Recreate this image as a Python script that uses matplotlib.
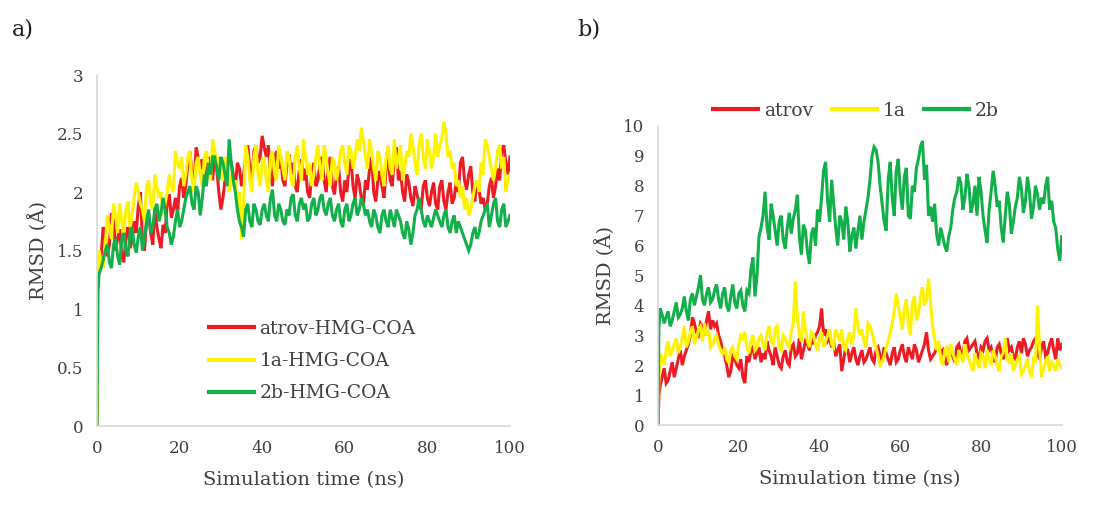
import matplotlib
matplotlib.use("Agg")
from matplotlib import pyplot as plt

# time axis (ns): start, early jump, then every 0.5 ns
time = [0, 0.2] + [k / 2 for k in range(1, 201)]

# panel a) RMSD (A)
a_atrov = [0, 1.2,
           1.35, 1.45, 1.7, 1.62, 1.45, 1.55, 1.82, 1.78, 1.5, 1.6,
           1.68, 1.45, 1.4, 1.62, 1.7, 1.52, 1.6, 1.75, 1.65, 1.88,
           2.0, 1.6, 1.5, 1.75, 1.82, 1.65, 1.55, 1.85, 1.7, 1.6,
           1.52, 1.72, 1.65, 1.9, 1.98, 1.78, 1.85, 1.95, 1.82, 2.05,
           2.12, 1.95, 2.05, 2.25, 2.35, 2.15, 2.05, 2.38, 2.3, 2.2,
           2.28, 2.05, 2.15, 2.3, 2.22, 2.1, 2.32, 2.2, 2.0, 1.85,
           1.95, 2.1, 2.2, 2.3, 2.25, 2.15, 2.05, 2.25, 2.2, 2.05,
           2.15, 2.3, 2.4, 2.2, 2.1, 2.35, 2.4, 2.25, 2.3, 2.48,
           2.38, 2.3, 2.4, 2.15, 2.05, 2.3, 2.35, 2.2, 2.3, 2.1,
           2.05, 2.25, 2.32, 2.15, 2.25, 2.05, 2.0, 2.2, 2.28, 2.1,
           2.2, 2.0, 1.95, 2.15, 2.25, 2.05, 2.1, 2.25, 2.3, 2.1,
           2.0, 2.2, 2.3, 2.05, 1.98, 2.15, 2.22, 2.0, 1.92, 2.1,
           2.0, 2.2, 2.28, 2.05, 1.95, 2.15, 2.08, 1.95, 1.88, 2.1,
           2.02, 2.2, 2.3, 2.0, 1.92, 2.1, 2.18, 2.05, 1.95, 2.2,
           2.3, 2.1, 2.05, 2.3, 2.38, 2.1, 2.18, 2.0, 1.92, 2.15,
           2.08, 1.95, 1.88, 2.05, 1.98, 1.9, 1.85, 2.05, 2.1, 1.95,
           1.88, 2.0, 2.08, 1.9, 1.85, 2.05, 2.1, 1.92, 1.85, 2.0,
           2.08, 1.9, 1.95, 2.1, 2.0, 2.25, 2.3, 2.1, 2.02, 2.15,
           2.22, 2.0, 1.92, 2.1, 2.02, 1.9, 1.95, 1.85, 1.9, 2.05,
           2.12, 1.95, 2.05, 2.2, 2.1, 2.35, 2.4, 2.25, 2.15, 2.3]
a_1a = [0, 1.1,
        1.5, 1.4, 1.35, 1.55, 1.8, 1.7, 1.6, 1.9, 1.8, 1.65,
        1.9, 1.75, 1.65, 1.85, 1.92, 1.7, 1.8, 1.95, 2.08, 2.0,
        1.9, 1.85, 1.75, 2.05, 2.1, 1.9, 1.85, 2.15, 2.05, 1.95,
        2.0, 1.8, 1.9, 2.0, 2.15, 2.05, 2.0, 2.35, 2.25, 2.2,
        2.3, 2.05, 2.15, 2.3, 2.35, 2.1, 2.0, 2.25, 2.3, 2.15,
        2.05, 2.3, 2.35, 2.2, 2.1, 2.45, 2.35, 2.25, 2.3, 2.15,
        2.1, 2.3, 2.25, 2.0, 2.15, 2.05, 2.1, 1.85, 2.0, 1.6,
        1.9, 2.4, 2.3, 2.1, 2.0, 2.3, 2.4, 2.15, 2.05, 2.25,
        2.3, 2.1, 2.0, 2.3, 2.35, 2.15, 2.1, 2.4, 2.3, 2.2,
        2.1, 2.35, 2.3, 2.1, 2.05, 2.3, 2.4, 2.2, 2.1, 2.45,
        2.3, 2.15, 2.25, 2.05, 2.15, 2.3, 2.4, 2.2, 2.1, 2.4,
        2.3, 2.15, 2.05, 2.3, 2.25, 2.1, 2.2, 2.35, 2.4, 2.25,
        2.15, 2.4, 2.35, 2.2, 2.3, 2.45, 2.35, 2.55, 2.45, 2.3,
        2.2, 2.45, 2.35, 2.2, 2.1, 2.35, 2.3, 2.15, 2.05, 2.3,
        2.4, 2.2, 2.15, 2.45, 2.2, 2.3, 2.4, 2.1, 2.2, 2.35,
        2.3, 2.5, 2.4, 2.25, 2.15, 2.4, 2.5, 2.3, 2.2, 2.45,
        2.35, 2.2, 2.3, 2.5, 2.3, 2.4, 2.45, 2.6, 2.5, 2.3,
        2.35, 2.2, 2.25, 2.05, 2.1, 1.95, 2.05, 1.85, 1.95, 1.8,
        1.85, 1.95, 2.05, 2.1, 2.0, 2.25, 2.15, 2.45, 2.4, 2.3,
        2.2, 2.1, 2.2, 2.35, 2.4, 2.2, 2.3, 2.0, 2.1, 2.15]
a_2b = [0, 1.15,
        1.3, 1.35, 1.42, 1.5, 1.55, 1.4, 1.35, 1.55, 1.6, 1.45,
        1.38, 1.6, 1.65, 1.5, 1.45, 1.65, 1.7, 1.55, 1.48, 1.62,
        1.7, 1.5, 1.6, 1.75, 1.85, 1.65, 1.7, 1.85, 1.9, 1.75,
        1.82, 1.95, 1.85, 1.7, 1.65, 1.55, 1.62, 1.75, 1.85, 1.7,
        1.75, 1.85, 1.95, 2.0, 2.05, 1.9, 1.85, 2.05, 2.0, 1.8,
        1.95, 2.15, 2.05, 2.25, 2.15, 2.3, 2.3, 2.2, 2.1, 2.3,
        2.25, 2.15, 2.05, 2.45, 2.25, 2.1, 2.0, 1.85, 1.75, 1.7,
        1.62, 1.85, 1.9, 1.75, 1.7, 1.9, 1.85, 1.75, 1.72, 1.85,
        1.9, 1.8, 1.75, 1.95, 2.02, 1.8, 1.75, 1.9, 1.85, 1.75,
        1.72, 1.85, 1.8, 1.95, 1.98, 1.8, 1.75, 1.9, 1.95, 1.85,
        1.9, 1.75, 1.78, 1.9, 1.95, 1.8, 1.85, 1.95, 1.98, 1.85,
        1.8, 1.9, 1.95, 1.8, 1.75, 1.85, 1.9, 1.75, 1.7, 1.85,
        1.9, 1.75, 1.8, 1.9, 1.95, 1.8, 1.85, 1.95, 1.9, 1.8,
        1.85, 1.75, 1.7, 1.85, 1.8, 1.7, 1.65, 1.8, 1.85, 1.75,
        1.7, 1.85, 1.78, 1.7, 1.85, 1.8, 1.75, 1.65, 1.6, 1.75,
        1.68, 1.55, 1.65, 1.8, 1.85, 1.95, 1.85, 1.75, 1.7, 1.8,
        1.75, 1.7, 1.78, 1.85, 1.8, 1.75, 1.7, 1.8, 1.85, 1.7,
        1.65, 1.75, 1.8, 1.65, 1.75, 1.7, 1.65, 1.6, 1.55, 1.5,
        1.55, 1.65, 1.7, 1.6, 1.65, 1.75, 1.8, 1.85, 1.9, 1.7,
        1.8, 1.9, 1.95, 1.75, 1.7, 1.85, 1.9, 1.7, 1.75, 1.8]

# panel b) RMSD (A)
b_atrov = [0, 1.0,
           1.3, 1.6, 1.9, 1.4, 1.5, 1.8, 2.1, 1.6, 1.9, 2.2,
           2.5, 2.0, 2.3, 2.5, 2.7, 3.0, 3.6, 3.4, 3.1, 3.0,
           3.4, 3.3, 3.0, 3.5, 3.8, 3.2, 3.5, 3.3, 3.4, 3.0,
           2.8, 2.5, 2.3, 2.0, 1.6, 1.8, 2.3, 2.2, 2.0, 1.9,
           2.2, 1.6, 1.4, 2.3, 2.1, 2.5, 2.6, 2.2, 2.4, 2.6,
           2.1, 2.4, 2.2, 2.8, 2.5, 2.3, 2.0, 2.6, 2.3, 2.0,
           1.9, 2.3, 2.5, 2.1, 2.0, 2.6, 2.7, 2.3, 2.4, 2.9,
           2.2, 2.5, 2.8, 2.7, 2.5, 2.9, 2.7, 3.0, 3.1, 3.3,
           3.9, 3.0, 3.2, 2.8, 2.9, 2.6, 2.8, 2.3, 2.5, 2.7,
           1.8, 2.2, 2.6, 2.5, 2.1, 2.4, 2.6, 2.2, 2.0, 2.3,
           2.5, 2.1, 2.2, 2.4, 2.6, 2.2, 2.1, 2.5, 2.6, 2.3,
           2.1, 2.6, 2.4, 2.2, 2.0, 2.4, 2.6, 2.1, 2.2, 2.5,
           2.7, 2.3, 2.1, 2.6, 2.4, 2.2, 2.7, 2.5, 2.1, 2.3,
           2.5, 2.7, 3.1, 2.5, 2.2, 2.3, 2.4, 2.6, 2.7, 2.4,
           2.5, 2.2, 2.0, 2.5, 2.6, 2.3, 2.1, 2.6, 2.7, 2.4,
           2.3, 2.8, 2.9, 2.5, 2.6, 2.7, 2.8, 2.4, 2.2, 2.6,
           2.5, 2.8, 2.9, 2.5, 2.6, 2.3, 2.1, 2.6, 2.7, 2.4,
           2.2, 2.7, 2.9, 2.5, 2.6, 2.3, 2.2, 2.6, 2.8, 2.4,
           2.9, 2.7, 2.3, 2.5, 2.6, 2.8, 2.9, 2.4, 2.2, 2.6,
           2.8, 2.3, 2.4, 2.7, 2.9, 2.5, 2.2, 2.9, 2.5, 2.7]
b_1a = [0, 1.5,
        2.4, 2.2, 2.0, 2.5, 2.8, 2.3, 2.5, 2.7, 2.9, 2.4,
        2.6, 2.9, 3.3, 2.6, 2.8, 3.1, 3.3, 2.7, 2.9, 3.2,
        3.3, 2.8, 3.4, 3.0, 3.2, 2.6, 2.7, 2.9, 3.0, 2.7,
        2.5, 2.4, 2.6, 2.2, 2.1, 2.5, 2.6, 2.3, 2.2, 2.7,
        3.0, 2.9, 3.1, 2.6, 2.4, 2.8, 3.0, 2.5, 2.6, 2.9,
        3.0, 2.7, 2.5, 3.1, 3.3, 2.8, 2.7, 3.2, 3.3, 2.6,
        2.5, 3.0, 2.9, 2.7, 2.6, 3.1, 3.4, 4.8, 3.6, 3.0,
        2.8, 3.8, 3.2, 2.8, 2.6, 3.1, 3.0, 2.7, 2.5, 2.9,
        3.1, 2.6, 2.8, 3.0, 3.2, 2.7, 2.6, 3.2, 3.0, 2.8,
        3.2, 2.6, 2.5, 2.9, 3.1, 2.7, 3.0, 3.9, 3.3, 3.0,
        3.2, 2.8, 2.6, 3.4, 3.3, 3.1, 2.8, 2.6, 2.3, 2.0,
        2.1, 2.3, 2.6, 2.8, 3.1, 3.4, 3.8, 4.4, 4.0, 3.6,
        3.2, 3.9, 4.2, 3.4, 3.0, 4.1, 4.3, 3.5, 3.7, 4.3,
        4.6, 4.0, 4.2, 4.9, 4.1, 3.3, 2.9, 2.5, 2.8, 2.2,
        2.0, 2.5, 2.6, 2.1, 2.7, 2.4, 2.2, 2.0, 2.5, 2.3,
        2.1, 2.7, 2.4, 2.2, 2.0, 1.8, 2.4, 2.1, 1.9, 2.4,
        2.3, 1.9, 2.5, 2.2, 2.0, 2.5, 2.3, 2.0, 1.8, 2.3,
        2.4, 2.9, 2.2, 2.1, 2.4, 1.8, 2.0, 2.2, 2.3, 1.7,
        1.8, 2.0, 2.2, 1.8, 1.6, 2.2, 2.1, 4.0, 2.6, 1.6,
        1.9, 2.1, 2.3, 1.8, 2.1, 2.0, 1.8, 2.2, 2.0, 1.9]
b_2b = [0, 3.2,
        3.9, 3.7, 3.4, 3.6, 3.8, 3.3, 3.5, 3.8, 4.1, 3.6,
        3.7, 3.9, 4.3, 3.8, 3.5, 4.2, 4.4, 4.0, 4.3, 4.6,
        5.0, 4.2, 4.0, 4.4, 4.6, 4.1, 4.2, 4.5, 4.7, 4.2,
        3.9, 4.4, 4.6, 4.0, 3.8, 4.3, 4.7, 4.1, 3.9, 4.4,
        4.5, 4.0, 3.8, 4.5, 4.4, 5.2, 5.6, 4.3, 5.0, 6.3,
        6.6, 7.0, 7.8, 6.6, 6.2, 7.4, 7.0, 6.5, 6.0, 6.8,
        7.0, 6.2, 5.9, 6.6, 7.1, 6.4, 6.9, 7.2, 7.7, 6.3,
        5.7, 6.7, 6.5, 5.8, 5.4, 6.4, 6.6, 6.0, 7.2, 6.8,
        7.6, 8.5, 8.8, 7.5, 6.8, 8.2, 7.4, 6.6, 6.0, 7.0,
        6.8, 6.2, 7.3, 6.8, 5.8, 6.3, 6.6, 5.9, 6.5, 7.0,
        6.2, 6.8, 7.2, 7.6, 8.2, 9.0, 9.3, 9.2, 8.8, 8.0,
        7.4, 6.8, 6.5, 8.2, 8.8, 7.6, 7.0, 8.5, 8.9, 7.8,
        7.2, 8.3, 8.6, 7.0, 6.9, 8.0, 7.8, 8.6, 8.9, 9.3,
        9.5, 8.2, 8.7, 7.0, 7.3, 6.8, 7.4, 6.4, 6.0, 6.6,
        6.3, 6.0, 5.8, 6.3, 6.6, 7.2, 7.6, 7.8, 8.3, 8.1,
        7.2, 7.6, 8.4, 8.0, 7.1, 7.4, 8.0, 7.0, 8.3, 7.8,
        7.0, 6.5, 6.1, 7.2, 7.8, 8.5, 8.0, 7.3, 7.5, 6.6,
        6.1, 7.0, 7.8, 7.4, 6.4, 6.8, 7.3, 7.6, 8.3, 7.9,
        7.1, 7.5, 8.3, 7.8, 6.9, 7.3, 8.0, 7.7, 7.2, 7.6,
        7.4, 8.0, 8.3, 7.2, 7.5, 6.8, 6.6, 5.9, 5.5, 6.3]

RED = "#ed1c24"
YELLOW = "#fff200"
GREEN = "#12b04a"
TEXT = "#404040"
SPINE = "#d9d9d9"

plt.rcParams["font.family"] = ["DejaVu Serif"]

fig = plt.figure(figsize=(11.06, 5.09), dpi=100)
ax_a = fig.add_axes([0.0877, 0.163, 0.3734, 0.6896])
ax_b = fig.add_axes([0.595, 0.165, 0.365, 0.5875])

LINE = dict(lw=2.2, solid_joinstyle="miter")


def style(ax, ymax, yticks):
    ax.set_xlim(0, 100)
    ax.set_ylim(0, ymax)
    ax.set_xticks(range(0, 101, 20))
    ax.set_yticks(yticks)
    ax.set_yticklabels([f"{v:g}" for v in yticks])
    for side in ("top", "right"):
        ax.spines[side].set_visible(False)
    for side in ("left", "bottom"):
        ax.spines[side].set_color(SPINE)
        ax.spines[side].set_linewidth(1.2)
    ax.tick_params(length=0, labelsize=12, labelcolor=TEXT, pad=10)
    ax.set_xlabel("Simulation time (ns)", fontsize=14, color=TEXT, labelpad=10)
    ax.set_ylabel("RMSD (Å)", fontsize=14, color=TEXT, labelpad=6)


# Panel a)
ax_a.plot(time, a_atrov, color=RED, label="atrov-HMG-COA", **LINE)
ax_a.plot(time, a_1a, color=YELLOW, label="1a-HMG-COA", **LINE)
ax_a.plot(time, a_2b, color=GREEN, label="2b-HMG-COA", **LINE)
style(ax_a, 3, [0, 0.5, 1, 1.5, 2, 2.5, 3])
leg = ax_a.legend(loc="center left", bbox_to_anchor=(0.23, 0.185), frameon=False,
                  fontsize=13.5, handlelength=2.4, labelspacing=0.75,
                  handletextpad=0.3, labelcolor=TEXT)
for h in leg.legend_handles:
    h.set_linewidth(3)

# Panel b)
ax_b.plot(time, b_atrov, color=RED, label="atrov", **LINE)
ax_b.plot(time, b_1a, color=YELLOW, label="1a", **LINE)
ax_b.plot(time, b_2b, color=GREEN, label="2b", **LINE)
style(ax_b, 10, list(range(0, 11)))
leg = ax_b.legend(loc="lower center", bbox_to_anchor=(0.49, 0.965), ncol=3,
                  frameon=False, fontsize=13.5, handlelength=2.4,
                  handletextpad=0.3, columnspacing=1.0, labelcolor=TEXT)
for h in leg.legend_handles:
    h.set_linewidth(3)

fig.text(0.011, 0.93, "a)", fontsize=16, color="#202020")
fig.text(0.522, 0.93, "b)", fontsize=16, color="#202020")

fig.savefig("out.png", dpi=100)
